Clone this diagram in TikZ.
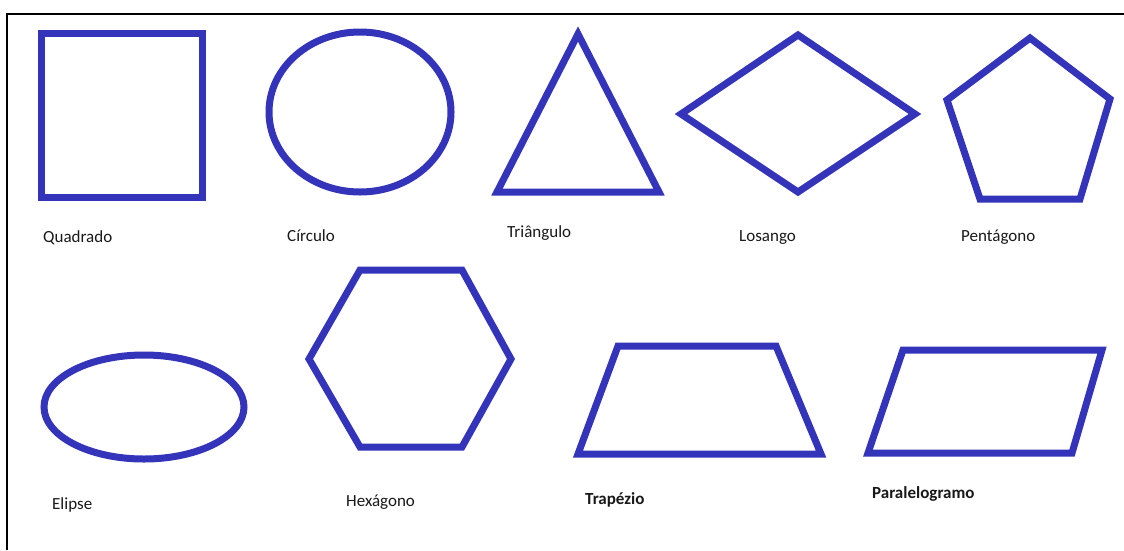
\documentclass[tikz,border=0pt]{standalone}
\usepackage{fontspec}
\setmainfont{Carlito}
\definecolor{shapeblue}{RGB}{52,52,186}
\begin{document}
\begin{tikzpicture}[x=1pt,y=-1pt,
  figline/.style={draw=shapeblue,line width=7pt,line join=miter},
  lbl/.style={anchor=west,inner sep=0pt,font=\fontsize{17}{20}\selectfont,text=black!90},
  blbl/.style={lbl,font=\fontsize{17}{20}\selectfont\bfseries}]
\useasboundingbox (0,0) rectangle (1124,550);
\fill[white] (0,0) rectangle (1124,550);
% frame (top and left edges)
\draw[line width=2pt] (7,550) -- (7,14) -- (1124,14);
% shapes
\draw[figline] (41,33) rectangle (202,197);
\draw[figline] (360,112) ellipse [x radius=91, y radius=80];
\draw[figline] (578,34) -- (659,192) -- (497,192) -- cycle;
\draw[figline] (681,114) -- (798,35) -- (915,114) -- (798,192) -- cycle;
\draw[figline] (1030,38) -- (1110,99) -- (1080,199) -- (980,199) -- (947,100) -- cycle;
\draw[figline] (144,407) ellipse [x radius=100, y radius=52];
\draw[figline] (360,270) -- (462,270) -- (511,359) -- (462,447) -- (360,447) -- (309,359) -- cycle;
\draw[figline] (618,346) -- (776,346) -- (821,454) -- (578,454) -- cycle;
\draw[figline] (903,350) -- (1102,350) -- (1072,453) -- (868,453) -- cycle;
% labels
\node[lbl] (quadrado) at (43,238) {Quadrado};
\node[lbl] (circulo) at (287,236) {Círculo};
\node[lbl] (triangulo) at (507,233) {Triângulo};
\node[lbl] (losango) at (739,237) {Losango};
\node[lbl] (pentagono) at (961,237) {Pentágono};
\node[lbl] (elipse) at (52,505) {Elipse};
\node[lbl] (hexagono) at (346,502) {Hexágono};
\node[blbl] (trapezio) at (585,500) {Trapézio};
\node[blbl] (paralelogramo) at (872,494) {Paralelogramo};
\end{tikzpicture}
\end{document}
